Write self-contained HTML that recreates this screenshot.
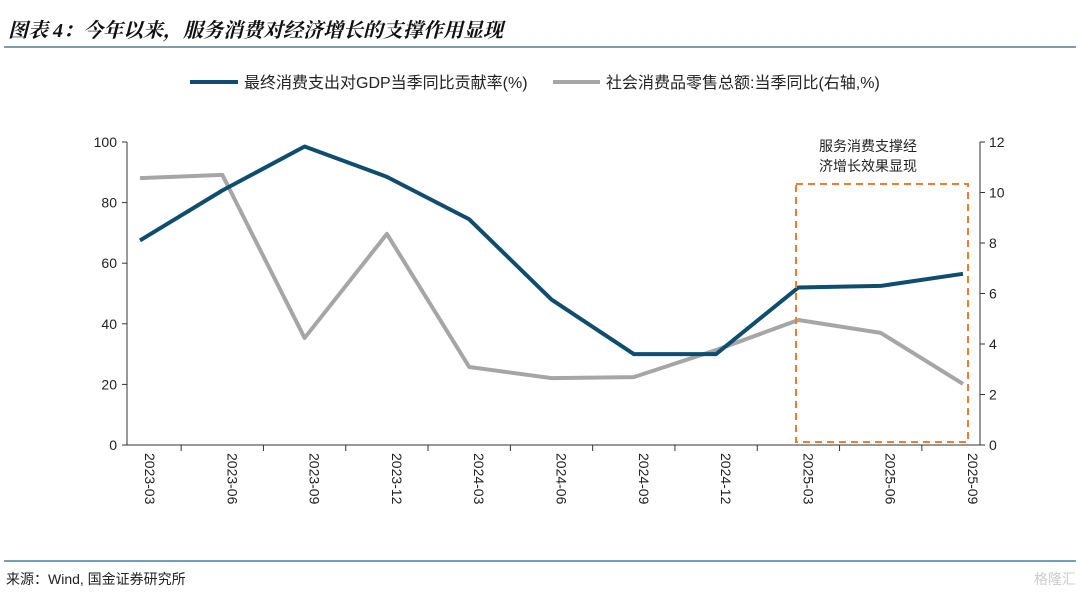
<!DOCTYPE html>
<html><head><meta charset="utf-8"><style>
body{margin:0;background:#fff;width:1080px;height:593px;overflow:hidden;font-family:"Liberation Sans","Noto Sans CJK SC",sans-serif;}
</style></head><body>
<svg width="1080" height="593">
<text x="8" y="37" font-size="20" font-weight="bold" font-style="italic" fill="#111" font-family="Liberation Serif, Noto Serif CJK SC, serif">图表 4：今年以来，服务消费对经济增长的支撑作用显现</text>
<line x1="4" y1="47" x2="1076" y2="47" stroke="#4a7f99" stroke-width="1.5"/>
<g>
<line x1="190" y1="82" x2="238" y2="82" stroke="#0e4d6e" stroke-width="4"/>
<text x="244" y="88" font-size="16" fill="#222">最终消费支出对GDP当季同比贡献率(%)</text>
<line x1="553" y1="82" x2="600" y2="82" stroke="#a6a6a6" stroke-width="4"/>
<text x="606" y="88" font-size="16" fill="#222">社会消费品零售总额:当季同比(右轴,%)</text>
</g>
<g id="axes"></g>
<g id="marks"></g>
<rect x="796" y="184" width="172" height="258" fill="none" stroke="#ed7d31" stroke-width="2" stroke-dasharray="7,5"/>
<text x="868" y="151" font-size="14" fill="#222" text-anchor="middle">服务消费支撑经</text>
<text x="868" y="171" font-size="14" fill="#222" text-anchor="middle">济增长效果显现</text>
<line x1="4" y1="561" x2="1076" y2="561" stroke="#4a7f99" stroke-width="1.5"/>
<text x="6" y="584" font-size="14" fill="#222">来源：Wind, 国金证券研究所</text>
<text x="1076" y="584" font-size="14" fill="#ccc" text-anchor="end">格隆汇</text>
</svg>
<script>
const categories=["2023-03","2023-06","2023-09","2023-12","2024-03","2024-06","2024-09","2024-12","2025-03","2025-06","2025-09"];
const gdpContribution=[67.5,84,98.5,88.5,74.5,48,30,30,52,52.5,56.5];
const retailGrowth=[10.57,10.7,4.24,8.36,3.09,2.65,2.69,3.76,4.95,4.44,2.42];
const leftTicks=[0,20,40,60,80,100];
const rightTicks=[0,2,4,6,8,10,12];
const NS="http://www.w3.org/2000/svg";
const x0=140,x1=963,yTop=142,yBot=445,axL=127,axR=980;
const xs=i=>x0+(x1-x0)*i/(categories.length-1);
const yL=v=>yBot-(v/100)*(yBot-yTop);
const yR=v=>yBot-(v/12)*(yBot-yTop);
function mk(tag,attrs,parent,text){const e=document.createElementNS(NS,tag);for(const k in attrs)e.setAttribute(k,attrs[k]);if(text!==undefined)e.textContent=text;parent.appendChild(e);return e;}
const ax=document.getElementById('axes'),mg=document.getElementById('marks');
let e;
e=mk('line',{x1:axL,y1:yTop,x2:axL,y2:yBot,stroke:'#333'},ax);


e=mk('line',{x1:axR,y1:yTop,x2:axR,y2:yBot,stroke:'#333'},ax);


e=mk('line',{x1:axL,y1:yBot,x2:axR,y2:yBot,stroke:'#333'},ax);


leftTicks.forEach(t=>{mk('line',{x1:axL-5,y1:yL(t),x2:axL,y2:yL(t),stroke:'#333'},ax);
e=mk('text',{x:axL-10,y:yL(t)+5,'font-size':14,'text-anchor':'end',fill:'#222'},ax,t);

});
rightTicks.forEach(t=>{mk('line',{x1:axR,y1:yR(t),x2:axR+5,y2:yR(t),stroke:'#333'},ax);
e=mk('text',{x:axR+9,y:yR(t)+5,'font-size':14,fill:'#222'},ax,t);

});
const step=(x1-x0)/(categories.length-1);
for(let i=1;i<categories.length;i++){const tx=x0-step/2+i*step;mk('line',{x1:tx,y1:yBot,x2:tx,y2:yBot+6,stroke:'#333'},ax);}
categories.forEach((c,i)=>{e=mk('text',{x:0,y:0,'font-size':14,fill:'#222','text-anchor':'start',transform:`translate(${xs(i)+5},${yBot+8}) rotate(90)`},ax,c);

});
e=mk('polyline',{points:retailGrowth.map((v,i)=>xs(i)+','+yR(v)).join(' '),fill:'none',stroke:'#a6a6a6','stroke-width':4,'stroke-linejoin':'round'},mg);


e=mk('polyline',{points:gdpContribution.map((v,i)=>xs(i)+','+yL(v)).join(' '),fill:'none',stroke:'#0e4d6e','stroke-width':4,'stroke-linejoin':'round'},mg);


</script>
</body></html>
